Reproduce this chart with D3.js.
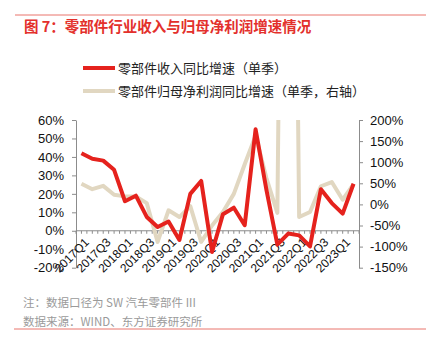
<!DOCTYPE html>
<html><head><meta charset="utf-8">
<script src="https://cdn.jsdelivr.net/npm/d3@7/dist/d3.min.js"></script>
<style>
html,body{margin:0;padding:0;background:#fff;}
svg{display:block;}
</style></head>
<body>
<svg id="c" width="426" height="346"></svg>
<script>
const quarters = ["2017Q1","2017Q2","2017Q3","2017Q4","2018Q1","2018Q2","2018Q3","2018Q4",
  "2019Q1","2019Q2","2019Q3","2019Q4","2020Q1","2020Q2","2020Q3","2020Q4",
  "2021Q1","2021Q2","2021Q3","2021Q4","2022Q1","2022Q2","2022Q3","2022Q4","2023Q1","2023Q2"];
const revenueYoY = [42,39,38,33,16,19,7.5,2,5,-5,20,27,-11.5,9,12.5,3,55,22,-7.5,-1.5,-2.5,-8.5,22.5,15,9.3,25.5];
const profitYoY = [49,36,44,23,19,19,3,-89,-14,-30,-4,-89,-50,-18,25,95,163,62,-20,2400,-30,-18,43,53,11,48];
const leftTicks = [-20,-10,0,10,20,30,40,50,60];
const rightTicks = [-150,-100,-50,0,50,100,150,200];
const xLabels = ["2017Q1","2017Q3","2018Q1","2018Q3","2019Q1","2019Q3","2020Q1","2020Q3","2021Q1","2021Q3","2022Q1","2022Q3","2023Q1"];
const titleText = "图 7：零部件行业收入与归母净利润增速情况";
const legendNames = ["零部件收入同比增速（单季）","零部件归母净利润同比增速（单季，右轴）"];
const noteText = "注：数据口径为 SW 汽车零部件 III";
const sourceText = "数据来源：WIND、东方证券研究所";

const RED = "#e5221d", BEIGE = "#e1d7c1", AXIS = "#8c8c8c";
const svg = d3.select("#c");
const L = 76, R = 359, T = 120, B = 267.7;
const cjk = "'Noto Sans CJK SC', 'Noto Sans', sans-serif";
const lat = "'Liberation Sans', Arial, sans-serif";

const x = d3.scaleBand().domain(quarters).range([L, R]);
const xc = q => x(q) + x.bandwidth()/2;
const yL = d3.scaleLinear().domain([-20,60]).range([B, T]);
const yR = d3.scaleLinear().domain([-150,200]).range([B, T]);

// frame lines
svg.append("line").attr("x1",15).attr("x2",426).attr("y1",15).attr("y2",15).attr("stroke","#e9756d").attr("stroke-width",1);
svg.append("line").attr("x1",14).attr("x2",426).attr("y1",329).attr("y2",329).attr("stroke","#e9756d").attr("stroke-width",1);

svg.append("text").attr("x",24).attr("y",32).attr("fill","#e3302c").attr("font-family",cjk)
  .attr("font-weight","bold").attr("font-size",14.5).text(titleText);

// legend
[[RED,68],[BEIGE,91]].forEach((d,i)=>{
  svg.append("line").attr("x1",83).attr("x2",115).attr("y1",d[1]).attr("y2",d[1]).attr("stroke",d[0]).attr("stroke-width",4);
  svg.append("text").attr("x",118).attr("y",d[1]).attr("dy","0.36em").attr("font-family",cjk).attr("font-size",13)
    .attr("fill","#222").text(legendNames[i]);
});

// left axis
const gl = svg.append("g").attr("transform",`translate(${L},0)`)
  .call(d3.axisLeft(yL).tickValues(leftTicks).tickFormat(d=>d+"%").tickSize(4).tickSizeOuter(0).tickPadding(8));
gl.select(".domain").attr("stroke",AXIS);
gl.selectAll(".tick line").attr("stroke",AXIS);
gl.selectAll("text").attr("font-family",lat).attr("font-size",13).attr("fill","#111");

// right axis
const gr = svg.append("g").attr("transform",`translate(${R},0)`)
  .call(d3.axisRight(yR).tickValues(rightTicks).tickFormat(d=>d+"%").tickSize(4).tickSizeOuter(0).tickPadding(7));
gr.select(".domain").attr("stroke",AXIS);
gr.selectAll(".tick line").attr("stroke",AXIS);
gr.selectAll("text").attr("font-family",lat).attr("font-size",13).attr("fill","#111");

// x axis at 0% (left)
const y0 = yL(0);
const halfTicks = [];
quarters.forEach(q=>{ halfTicks.push(x(q)); halfTicks.push(xc(q)); });
halfTicks.push(R);
svg.append("line").attr("x1",L).attr("x2",R).attr("y1",y0).attr("y2",y0).attr("stroke",AXIS);
svg.append("g").selectAll("line").data(halfTicks).join("line")
  .attr("x1",d=>d).attr("x2",d=>d).attr("y1",y0).attr("y2",y0+3).attr("stroke",AXIS);
svg.append("g").selectAll("text").data(xLabels).join("text")
  .attr("transform",d=>`translate(${xc(d)+2},${y0+6}) rotate(-45)`)
  .attr("text-anchor","end").attr("dy","0.75em").attr("font-family",lat).attr("font-size",12).attr("fill","#111")
  .text(d=>d);

// clip
svg.append("clipPath").attr("id","clip").append("rect").attr("x",L).attr("y",T).attr("width",R-L).attr("height",B-T);

const lineR = d3.line().x((d,i)=>xc(quarters[i])).y(d=>yR(d));
const lineL = d3.line().x((d,i)=>xc(quarters[i])).y(d=>yL(d));
svg.append("path").attr("clip-path","url(#clip)").attr("d",lineR(profitYoY)).attr("fill","none")
  .attr("stroke",BEIGE).attr("stroke-width",4).attr("stroke-linejoin","round");
svg.append("path").attr("clip-path","url(#clip)").attr("d",lineL(revenueYoY)).attr("fill","none")
  .attr("stroke",RED).attr("stroke-width",4).attr("stroke-linejoin","round");

svg.append("text").attr("x",23).attr("y",303).attr("dy","0.36em").attr("font-family",cjk).attr("font-size",11.5).attr("fill","#9a9a9a").text(noteText);
svg.append("text").attr("x",23).attr("y",322).attr("dy","0.36em").attr("font-family",cjk).attr("font-size",11.5).attr("fill","#9a9a9a").text(sourceText);
</script>
</body></html>
